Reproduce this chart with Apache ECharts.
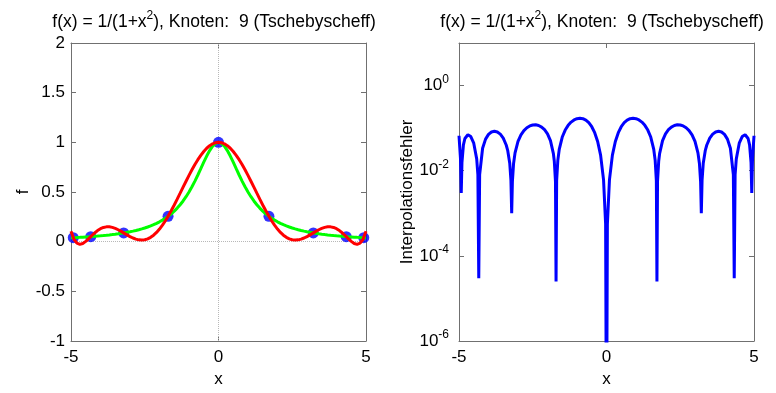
<!DOCTYPE html>
<html>
<head>
<meta charset="utf-8">
<script src="https://cdn.jsdelivr.net/npm/echarts@6/dist/echarts.min.js"></script>
<style>
  html, body { margin: 0; padding: 0; background: #fff; }
  #chart { width: 776px; height: 393px; }
</style>
</head>
<body>
<div id="chart"></div>
<script>
// sample points (x step 0.1)
const xs = [
  -5.0, -4.9, -4.8, -4.7, -4.6, -4.5, -4.4, -4.3, -4.2, -4.1,
  -4.0, -3.9, -3.8, -3.7, -3.6, -3.5, -3.4, -3.3, -3.2, -3.1,
  -3.0, -2.9, -2.8, -2.7, -2.6, -2.5, -2.4, -2.3, -2.2, -2.1,
  -2.0, -1.9, -1.8, -1.7, -1.6, -1.5, -1.4, -1.3, -1.2, -1.1,
  -1.0, -0.9, -0.8, -0.7, -0.6, -0.5, -0.4, -0.3, -0.2, -0.1,
  0.0,
  0.1, 0.2, 0.3, 0.4, 0.5, 0.6, 0.7, 0.8, 0.9, 1.0,
  1.1, 1.2, 1.3, 1.4, 1.5, 1.6, 1.7, 1.8, 1.9, 2.0,
  2.1, 2.2, 2.3, 2.4, 2.5, 2.6, 2.7, 2.8, 2.9, 3.0,
  3.1, 3.2, 3.3, 3.4, 3.5, 3.6, 3.7, 3.8, 3.9, 4.0,
  4.1, 4.2, 4.3, 4.4, 4.5, 4.6, 4.7, 4.8, 4.9, 5.0
]

// green: the function
const fVals = [
  0.0385, 0.0400, 0.0416, 0.0433, 0.0451, 0.0471, 0.0491, 0.0513, 0.0537, 0.0562,
  0.0588, 0.0617, 0.0648, 0.0681, 0.0716, 0.0755, 0.0796, 0.0841, 0.0890, 0.0943,
  0.1000, 0.1063, 0.1131, 0.1206, 0.1289, 0.1379, 0.1479, 0.1590, 0.1712, 0.1848,
  0.2000, 0.2169, 0.2358, 0.2571, 0.2809, 0.3077, 0.3378, 0.3717, 0.4098, 0.4525,
  0.5000, 0.5525, 0.6098, 0.6711, 0.7353, 0.8000, 0.8621, 0.9174, 0.9615, 0.9901,
  1.0000,
  0.9901, 0.9615, 0.9174, 0.8621, 0.8000, 0.7353, 0.6711, 0.6098, 0.5525, 0.5000,
  0.4525, 0.4098, 0.3717, 0.3378, 0.3077, 0.2809, 0.2571, 0.2358, 0.2169, 0.2000,
  0.1848, 0.1712, 0.1590, 0.1479, 0.1379, 0.1289, 0.1206, 0.1131, 0.1063, 0.1000,
  0.0943, 0.0890, 0.0841, 0.0796, 0.0755, 0.0716, 0.0681, 0.0648, 0.0617, 0.0588,
  0.0562, 0.0537, 0.0513, 0.0491, 0.0471, 0.0451, 0.0433, 0.0416, 0.0400, 0.0385
]

// red: interpolating polynomial
const pVals = [
  0.1046, 0.0245, -0.0156, -0.0267, -0.0181, 0.0028, 0.0302, 0.0595, 0.0873, 0.1114,
  0.1302, 0.1429, 0.1492, 0.1493, 0.1439, 0.1337, 0.1199, 0.1035, 0.0858, 0.0680,
  0.0513, 0.0368, 0.0255, 0.0184, 0.0161, 0.0193, 0.0283, 0.0436, 0.0651, 0.0929,
  0.1266, 0.1661, 0.2107, 0.2600, 0.3132, 0.3695, 0.4281, 0.4881, 0.5485, 0.6085,
  0.6671, 0.7233, 0.7763, 0.8253, 0.8694, 0.9080, 0.9404, 0.9662, 0.9849, 0.9962,
  1.0000,
  0.9962, 0.9849, 0.9662, 0.9404, 0.9080, 0.8694, 0.8253, 0.7763, 0.7233, 0.6671,
  0.6085, 0.5485, 0.4881, 0.4281, 0.3695, 0.3132, 0.2600, 0.2107, 0.1661, 0.1266,
  0.0929, 0.0651, 0.0436, 0.0283, 0.0193, 0.0161, 0.0184, 0.0255, 0.0368, 0.0513,
  0.0680, 0.0858, 0.1035, 0.1199, 0.1337, 0.1439, 0.1493, 0.1492, 0.1429, 0.1302,
  0.1114, 0.0873, 0.0595, 0.0302, 0.0028, -0.0181, -0.0267, -0.0156, 0.0245, 0.1046
]

// blue dots: the 9 Chebyshev nodes
const nodeX = [-4.924, -4.330, -3.214, -1.710, 0, 1.710, 3.214, 4.330, 4.924]
const nodeY = [0.0396, 0.0506, 0.0883, 0.2548, 1.0, 0.2548, 0.0883, 0.0506, 0.0396]

// right panel: interpolation error
const errX = [
  -5.0, -4.95, -4.924, -4.9, -4.85, -4.8, -4.7, -4.6, -4.5, -4.4, -4.36, -4.33, -4.3,
  -4.2, -4.1, -4.0, -3.9, -3.8, -3.7, -3.6, -3.5, -3.4, -3.35, -3.28, -3.24, -3.214, -3.19,
  -3.15, -3.1, -3.0, -2.9, -2.8, -2.7, -2.6, -2.5, -2.4, -2.3, -2.2, -2.1, -2.0,
  -1.9, -1.8, -1.77, -1.73, -1.71, -1.69, -1.65, -1.6, -1.5, -1.4, -1.3, -1.2, -1.1,
  -1.0, -0.9, -0.8, -0.7, -0.6, -0.5, -0.4, -0.3, -0.2, -0.1, -0.03,
  0.0,
  0.03, 0.1, 0.2, 0.3, 0.4, 0.5, 0.6, 0.7, 0.8, 0.9, 1.0,
  1.1, 1.2, 1.3, 1.4, 1.5, 1.6, 1.65, 1.69, 1.71, 1.73, 1.77, 1.8, 1.9,
  2.0, 2.1, 2.2, 2.3, 2.4, 2.5, 2.6, 2.7, 2.8, 2.9, 3.0, 3.1, 3.15,
  3.19, 3.214, 3.24, 3.28, 3.35, 3.4, 3.5, 3.6, 3.7, 3.8, 3.9, 4.0, 4.1, 4.2,
  4.3, 4.33, 4.36, 4.4, 4.5, 4.6, 4.7, 4.8, 4.85, 4.9, 4.924, 4.95, 5.0
]
const errY = [
  0.0662, 0.0195, 0.0030, 0.0155, 0.0406, 0.0572, 0.0701, 0.0633, 0.0443, 0.0190, 0.0081, 0.000030, 0.0081,
  0.0337, 0.0553, 0.0714, 0.0812, 0.0844, 0.0812, 0.0723, 0.0582, 0.0402, 0.0301, 0.0150, 0.0060, 0.0010, 0.0055,
  0.0148, 0.0263, 0.0487, 0.0695, 0.0876, 0.1023, 0.1128, 0.1187, 0.1196, 0.1154, 0.1061, 0.0920, 0.0734,
  0.0508, 0.0251, 0.0169, 0.0057, 0.000025, 0.0058, 0.0175, 0.0323, 0.0618, 0.0902, 0.1163, 0.1387, 0.1560,
  0.1671, 0.1708, 0.1666, 0.1541, 0.1341, 0.1080, 0.0783, 0.0487, 0.0233, 0.0061, 0.00056,
  1e-9,
  0.00056, 0.0061, 0.0233, 0.0487, 0.0783, 0.1080, 0.1341, 0.1541, 0.1666, 0.1708, 0.1671,
  0.1560, 0.1387, 0.1163, 0.0902, 0.0618, 0.0323, 0.0175, 0.0058, 0.000025, 0.0057, 0.0169, 0.0251, 0.0508,
  0.0734, 0.0920, 0.1061, 0.1154, 0.1196, 0.1187, 0.1128, 0.1023, 0.0876, 0.0695, 0.0487, 0.0263, 0.0148,
  0.0055, 0.0010, 0.0060, 0.0150, 0.0301, 0.0402, 0.0582, 0.0723, 0.0812, 0.0844, 0.0812, 0.0714, 0.0553, 0.0337,
  0.0081, 0.000030, 0.0081, 0.0190, 0.0443, 0.0633, 0.0701, 0.0572, 0.0406, 0.0155, 0.0030, 0.0195, 0.0662
]

const titleText = '{b|f(x) = 1/(1+x}{sup|2}{b|), Knoten:  9 (Tschebyscheff)}'
const fontFamily = '"Liberation Sans", Arial, sans-serif'
const frameColor = '#707070'

const zip = (a, b) => a.map((v, i) => [v, b[i]])

// tall line box for the base text, exponent pinned to its top
const supRich = (base, sup, boxH) => ({
  b: { fontSize: base, lineHeight: boxH, fontFamily, color: '#000' },
  sup: { fontSize: sup, lineHeight: sup, fontFamily, color: '#000', verticalAlign: 'top' },
})

const boxAxis = (gridIndex, position, type, extra) => ({
  gridIndex,
  position,
  type,
  axisLine: { show: true, onZero: false, lineStyle: { color: frameColor, width: 1 } },
  axisTick: { show: true, inside: true, length: 5, lineStyle: { color: frameColor } },
  axisLabel: { show: false },
  splitLine: { show: false },
  ...extra,
})

const labelStyle = { color: '#000', fontSize: 17, fontFamily }

const chart = echarts.init(document.getElementById('chart'), null, { renderer: 'canvas' })

const makeTitle = (left) => ({
  text: titleText,
  left,
  top: 5,
  textAlign: 'center',
  textStyle: { fontSize: 17.5, fontWeight: 'normal', color: '#000', fontFamily, rich: supRich(17.5, 12, 24) },
})

chart.setOption({
  animation: false,
  backgroundColor: '#fff',
  title: [makeTitle(209), makeTitle(597)],
  grid: [
    { left: 71, right: 410, top: 43, bottom: 44 },
    { left: 459, right: 22, top: 43, bottom: 44 },
  ],
  xAxis: [
    boxAxis(0, 'bottom', 'value', {
      min: -5, max: 5, interval: 5,
      name: 'x', nameLocation: 'middle', nameGap: 30,
      nameTextStyle: labelStyle,
      axisLabel: { show: true, margin: 8, ...labelStyle },
    }),
    boxAxis(0, 'top', 'value', { min: -5, max: 5, interval: 5 }),
    boxAxis(1, 'bottom', 'value', {
      min: -5, max: 5, interval: 5,
      name: 'x', nameLocation: 'middle', nameGap: 30,
      nameTextStyle: labelStyle,
      axisLabel: { show: true, margin: 8, ...labelStyle },
    }),
    boxAxis(1, 'top', 'value', { min: -5, max: 5, interval: 5 }),
  ],
  yAxis: [
    boxAxis(0, 'left', 'value', {
      min: -1, max: 2, interval: 0.5,
      name: 'f', nameLocation: 'middle', nameGap: 37,
      nameTextStyle: labelStyle,
      axisLabel: { show: true, margin: 6, ...labelStyle },
    }),
    boxAxis(0, 'right', 'value', { min: -1, max: 2, interval: 0.5 }),
    boxAxis(1, 'left', 'log', {
      min: 1e-6, max: 10, logBase: 10, interval: 2,
      name: 'Interpolationsfehler', nameLocation: 'middle', nameGap: 43,
      nameTextStyle: labelStyle,
      axisLabel: {
        show: true, margin: 10, ...labelStyle,
        formatter: (v) => {
          const n = Math.round(Math.log10(v))
          return n > 0 ? '' : '{b|10}{sup|' + n + '}'
        },
        rich: supRich(17, 12, 24),
      },
    }),
    boxAxis(1, 'right', 'log', { min: 1e-6, max: 10, logBase: 10, interval: 2 }),
  ],
  series: [
    {
      type: 'scatter',
      xAxisIndex: 0,
      yAxisIndex: 0,
      data: zip(nodeX, nodeY),
      symbol: 'circle',
      symbolSize: 11,
      itemStyle: { color: '#0000ff' },
      z: 2,
    },
    {
      type: 'line',
      xAxisIndex: 0,
      yAxisIndex: 0,
      data: zip(xs, fVals),
      showSymbol: false,
      lineStyle: { color: '#00ff00', width: 3 },
      z: 3,
      markLine: {
        silent: true,
        symbol: ['none', 'none'],
        label: { show: false },
        lineStyle: { type: 'dotted', color: '#b8b8b8', width: 1 },
        data: [{ xAxis: 0 }, { yAxis: 0 }],
        z: 1,
      },
    },
    {
      type: 'line',
      xAxisIndex: 0,
      yAxisIndex: 0,
      data: zip(xs, pVals),
      showSymbol: false,
      lineStyle: { color: '#ff0000', width: 3 },
      z: 4,
    },
    {
      type: 'line',
      xAxisIndex: 2,
      yAxisIndex: 2,
      data: zip(errX, errY),
      showSymbol: false,
      clip: true,
      lineStyle: { color: '#0000ff', width: 3 },
    },
  ],
})
</script>
</body>
</html>
